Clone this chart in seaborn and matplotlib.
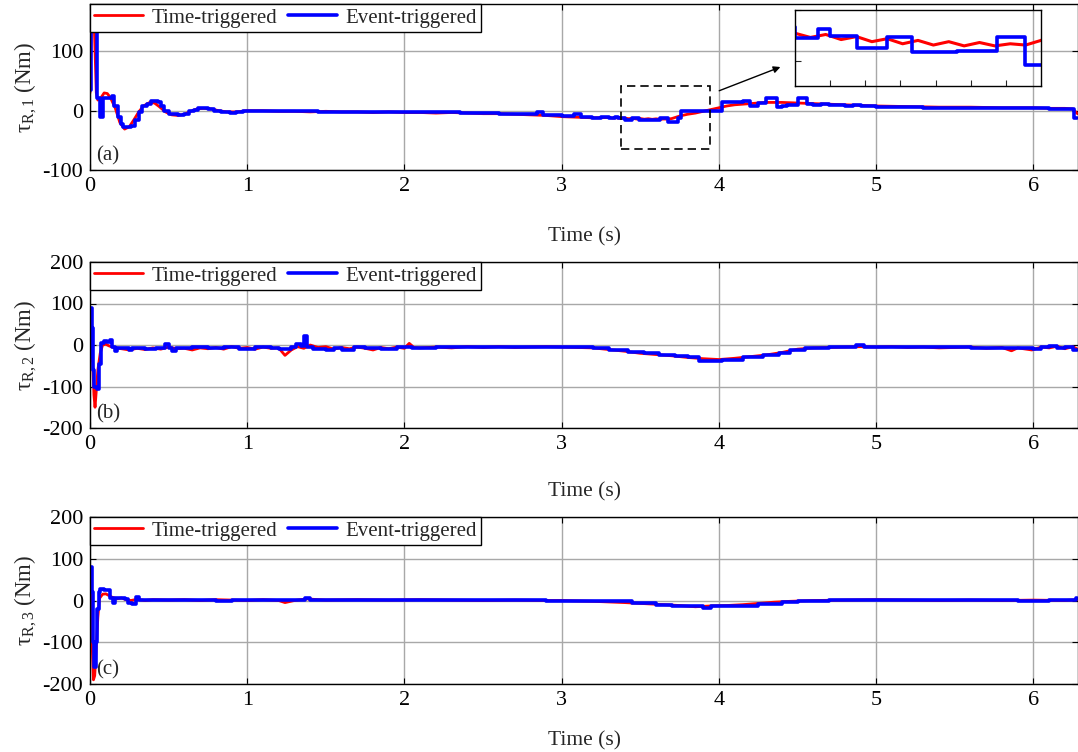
import numpy as np
import pandas as pd
import matplotlib
matplotlib.use("Agg")
import matplotlib.pyplot as plt
import matplotlib.patches as mpatches
import seaborn as sns

# ---------------- data ----------------
# Panel (a): tau_R,1
t_a_time = [0, 0.01, 0.02, 0.03, 0.04, 0.05, 0.07, 0.09, 0.11, 0.13, 0.16, 0.19, 0.22, 0.25, 0.28,
            0.31, 0.34, 0.38, 0.41, 0.44, 0.48, 0.52, 0.56, 0.6, 0.64, 0.68, 0.72, 0.77, 0.82, 0.87,
            0.93, 1.0, 1.1, 1.2, 1.3, 1.4, 1.5, 1.6, 1.7, 1.8, 1.9, 2.0, 2.1, 2.2, 2.3, 2.4, 2.5,
            2.6, 2.7, 2.8, 2.9, 3.0, 3.1, 3.2, 3.3,
            3.325, 3.35, 3.375, 3.4, 3.425, 3.45, 3.475, 3.5, 3.525, 3.55, 3.575, 3.6, 3.625,
            3.65, 3.675, 3.7,
            3.75, 3.8, 3.85, 3.9, 3.95, 4.0, 4.05, 4.1, 4.2, 4.3, 4.4, 4.5, 4.6, 4.7, 4.8, 4.9,
            5.0, 5.2, 5.4, 5.6, 5.8, 6.0, 6.1, 6.2, 6.25, 6.28]
v_a_time = [30, 160, 190, 120, 30, 18, 22, 30, 29, 22, 5, -20, -31, -27, -15,
            -2, 8, 14, 13, 7, -2, -7, -8, -6, -1, 3, 4, 3, 0, -2,
            -2, 0, 0, -1, -1, -2, -1, -2, -2, -3, -2, -3, -3, -4, -3, -4, -5,
            -5, -6, -7, -8, -10, -11, -12, -11.5,
            -12.5, -11.8, -13.0, -12.3, -13.5, -12.8, -14.0, -13.2, -14.3, -13.5, -14.5, -13.7,
            -14.5, -14.0, -14.3, -13.2,
            -9, -6, -4, -1, 2, 5, 8, 10, 12, 14, 14, 13, 12, 11, 10, 9,
            8, 7, 6, 6, 5, 5, 4, 4, 3, -5]
t_a_event = [0, 0.005, 0.045, 0.065, 0.08, 0.14, 0.155, 0.175, 0.195, 0.21, 0.26, 0.285, 0.31,
             0.33, 0.36, 0.39, 0.43, 0.45, 0.47, 0.5, 0.56, 0.6, 0.63, 0.66, 0.69, 0.75, 0.79,
             0.83, 0.89, 0.93, 0.97, 1.05, 1.15, 1.3, 1.45, 1.6, 1.75, 1.9, 2.05, 2.2, 2.35, 2.5,
             2.6, 2.75, 2.84, 2.88, 3.0, 3.08, 3.12, 3.19, 3.25, 3.3, 3.337, 3.357, 3.4, 3.45,
             3.49, 3.563, 3.628, 3.674, 3.74, 3.76, 3.86, 4.02, 4.15, 4.2, 4.25, 4.3, 4.37, 4.4,
             4.43, 4.5, 4.56, 4.6, 4.65, 4.7, 4.8, 4.85, 4.9, 5.0, 5.1, 5.2, 5.3, 5.5, 5.7, 5.9,
             6.1, 6.2, 6.26, 6.28]
v_a_event = [35, 185, 22, -10, 22, 24, 8, -10, -22, -27, -25, -15, -3,
             8, 12, 17, 14, 8, 0, -6, -7, -5, -1, 2, 4, 3, 0,
             -3, -4, -2, 0, 0, -1, -1, -2, -2, -2, -3, -2, -3, -4, -4,
             -5, -6, -3, -8, -9, -6, -10, -13, -10, -12.6, -10.5, -12.2, -15, -12.4,
             -16, -15.7, -12.4, -19, -12, -1, 0, 15, 17, 8, 13, 21, 7, 8,
             10, 21, 12, 9, 12, 10, 8, 10, 8, 7, 6, 7, 5, 5, 4, 4,
             3, 3, -12, -12]

# Panel (b): tau_R,2
t_b_time = [0, 0.008, 0.015, 0.025, 0.032, 0.04, 0.05, 0.065, 0.08, 0.1, 0.12, 0.15, 0.2, 0.25,
            0.3, 0.35, 0.4, 0.45, 0.5, 0.55, 0.6, 0.65, 0.7, 0.75, 0.8, 0.85, 0.9, 0.95, 1.0,
            1.05, 1.1, 1.15, 1.2, 1.24, 1.28, 1.32, 1.36, 1.4, 1.45, 1.5, 1.55, 1.6, 1.65, 1.7,
            1.75, 1.8, 1.85, 1.9, 1.95, 2.0, 2.03, 2.06, 2.1, 2.2, 2.3, 2.4, 2.5, 2.6, 2.7, 2.8,
            2.9, 3.0, 3.1, 3.2, 3.3, 3.4, 3.5, 3.6, 3.7, 3.8, 3.9, 4.0, 4.1, 4.2, 4.3, 4.4, 4.5,
            4.6, 4.7, 4.8, 4.9, 5.0, 5.1, 5.2, 5.3, 5.4, 5.5, 5.6, 5.7, 5.8, 5.86, 5.9, 5.99,
            6.05, 6.1, 6.15, 6.2, 6.25, 6.28]
v_b_time = [-40, 60, -20, -120, -150, -110, -60, -20, 0, 2, -2, -6, -9, -12,
            -8, -11, -7, -10, -5, -9, -8, -12, -7, -9, -6, -10, -4, -8, -6,
            -10, -5, -8, -7, -25, -12, -4, -8, 0, -6, -4, -10, -6, -9, -5,
            -8, -12, -6, -9, -5, -8, 4, -6, -7, -5, -7, -4, -6, -4, -6, -5,
            -4, -5, -6, -7, -11, -15, -20, -23, -26, -30, -33, -35, -32, -28, -24, -18, -10,
            -7, -6, -5, -4, -5, -4, -6, -5, -7, -6, -5, -8, -6, -14, -7, -12,
            -5, -7, -3, -9, -4, -10]
t_b_event = [0, 0.004, 0.012, 0.02, 0.028, 0.045, 0.055, 0.07, 0.09, 0.11, 0.125, 0.14, 0.16,
             0.17, 0.25, 0.27, 0.35, 0.42, 0.48, 0.5, 0.52, 0.55, 0.65, 0.75, 0.85, 0.95, 1.05,
             1.15, 1.2, 1.28, 1.31, 1.34, 1.36, 1.38, 1.42, 1.5, 1.55, 1.6, 1.68, 1.75, 1.85,
             1.95, 2.05, 2.2, 2.4, 2.6, 2.8, 3.0, 3.1, 3.2, 3.3, 3.42, 3.52, 3.62, 3.72, 3.8,
             3.87, 4.02, 4.15, 4.28, 4.38, 4.45, 4.55, 4.7, 4.87, 4.92, 5.0, 5.2, 5.4, 5.6, 5.8,
             5.95, 6.0, 6.05, 6.1, 6.15, 6.2, 6.25, 6.28]
v_b_event = [-30, 88, 40, -60, -100, -105, -45, 5, 10, 8, 12, -5, -15,
             -7, -12, -7, -9, -7, 2, -8, -14, -8, -6, -8, -5, -9, -6,
             -8, -10, -5, 3, -3, 22, -4, -10, -12, -7, -11, -6, -8, -9,
             -6, -7, -5, -4, -5, -4, -5, -6, -8, -11, -16, -20, -24, -27, -30,
             -38, -36, -28, -25, -20, -12, -7, -5, -1, -4, -5, -6, -6, -7, -8,
             -7, -10, -6, -3, -7, -4, -12, -12]

# Panel (c): tau_R,3
t_c_time = [0, 0.008, 0.015, 0.022, 0.03, 0.04, 0.05, 0.06, 0.08, 0.1, 0.12, 0.14, 0.17, 0.2,
            0.23, 0.26, 0.3, 0.35, 0.4, 0.5, 0.6, 0.7, 0.8, 0.9, 1.0, 1.1, 1.2, 1.24, 1.3, 1.38,
            1.45, 1.5, 1.7, 1.9, 2.1, 2.3, 2.5, 2.7, 2.9, 3.0, 3.2, 3.4, 3.6, 3.75, 3.85, 3.95,
            4.05, 4.15, 4.25, 4.35, 4.45, 4.6, 4.8, 5.0, 5.2, 5.4, 5.6, 5.8, 6.0, 6.2, 6.28]
v_c_time = [70, 0, -120, -190, -180, -110, -40, 5, 15, 16, 12, 8, 4, 6,
            2, 0, 3, 0, 2, 1, 2, 0, 2, 1, 0, 2, 0, -5, 0, 4,
            2, 1, 2, 1, 2, 1, 0, 1, 0, 0, -2, -5, -9, -12, -15, -13,
            -12, -10, -7, -4, -2, 0, 1, 2, 1, 0, 1, 0, 1, 0, 2]
t_c_event = [0, 0.01, 0.018, 0.026, 0.036, 0.045, 0.055, 0.065, 0.09, 0.13, 0.145, 0.16, 0.22,
             0.24, 0.27, 0.29, 0.31, 0.4, 0.5, 0.6, 0.7, 0.8, 0.9, 1.0, 1.1, 1.2, 1.3, 1.37, 1.4,
             1.5, 1.7, 1.9, 2.1, 2.3, 2.5, 2.7, 2.9, 3.1, 3.3, 3.45, 3.6, 3.7, 3.85, 3.9, 3.95,
             4.1, 4.25, 4.4, 4.5, 4.7, 4.9, 5.1, 5.3, 5.5, 5.7, 5.9, 6.1, 6.25, 6.27, 6.28]
v_c_event = [80, 20, -100, -160, -100, -20, 20, 27, 25, 6, -6, 5, 4,
             -6, -8, 8, 2, 1, 2, 1, 2, 0, 2, 1, 2, 1, 2, 6, 2,
             1, 2, 1, 2, 1, 1, 1, 0, 0, -2, -6, -10, -12, -14, -19, -14,
             -12, -8, -4, -1, 1, 2, 1, 1, 1, 1, 0, 1, 2, 6, 6]

series_names = ["Time-triggered", "Event-triggered"]
panel_tags = ["(a)", "(b)", "(c)"]
ylabels = ["τ$_{\\mathrm{R,1}}$ (Nm)", "τ$_{\\mathrm{R,2}}$ (Nm)", "τ$_{\\mathrm{R,3}}$ (Nm)"]
x_ticks = [0, 1, 2, 3, 4, 5, 6]
y_ticks_a = [-100, 0, 100]
y_ticks_bc = [-200, -100, 0, 100, 200]

# ---------------- style ----------------
sns.set_theme(style="ticks")
plt.rcParams["font.family"] = ["Liberation Serif", "DejaVu Serif"]
plt.rcParams["mathtext.fontset"] = "custom"
plt.rcParams["mathtext.rm"] = "Liberation Serif"
plt.rcParams["mathtext.it"] = "Liberation Serif:italic"
plt.rcParams["axes.linewidth"] = 1.0
plt.rcParams["axes.unicode_minus"] = False

RED = "#ff0000"
BLUE = "#0000ff"
FS_TICK = 16
FS_LEG = 15
FS_LAB = 15.5

fig = plt.figure(figsize=(10.78, 7.52), dpi=100)
W, H = 1078.0, 752.0

def ax_rect(top, bottom, left=90, right=1078):
    return [left / W, 1 - bottom / H, (right - left) / W, (bottom - top) / H]

axes = [fig.add_axes(ax_rect(4, 170)),
        fig.add_axes(ax_rect(262, 428)),
        fig.add_axes(ax_rect(517, 684))]

data = [(t_a_time, v_a_time, t_a_event, v_a_event),
        (t_b_time, v_b_time, t_b_event, v_b_event),
        (t_c_time, v_c_time, t_c_event, v_c_event)]
ylims = [(-100, 180), (-200, 200), (-200, 200)]
xlabel_y = [-0.345, -0.325, -0.285]

def draw_series(ax, tt, vt, te, ve, lw_r=2.0, lw_b=2.6):
    sns.lineplot(x=tt, y=vt, ax=ax, color=RED, lw=lw_r, label=series_names[0],
                 estimator=None, sort=False)
    sns.lineplot(x=te, y=ve, ax=ax, color=BLUE, lw=lw_b, label=series_names[1],
                 estimator=None, sort=False, drawstyle="steps-post")

for i, ax in enumerate(axes):
    tt, vt, te, ve = data[i]
    draw_series(ax, tt, vt, te, ve)
    ax.set_xlim(0, 2 * np.pi)
    ax.set_ylim(*ylims[i])
    ax.set_xticks(x_ticks)
    ax.set_yticks(y_ticks_a if i == 0 else y_ticks_bc)
    ax.grid(True, color="#a8a8a8", lw=1.0)
    ax.set_axisbelow(True)
    ax.tick_params(direction="in", top=True, right=True, length=4, width=0.8,
                   labelsize=FS_TICK, pad=5, colors="black")
    for s in ax.spines.values():
        s.set_color("black")
        s.set_linewidth(1.0)
    ax.set_xlabel("Time (s)", fontsize=FS_LAB)
    ax.xaxis.set_label_coords(0.5, xlabel_y[i])
    ax.xaxis.label.set_va("top")
    ax.set_ylabel(ylabels[i], fontsize=FS_LAB + 1)
    ax.yaxis.set_label_coords(-0.052, 0.5)
    ax.text(0.006, 0.03, panel_tags[i], transform=ax.transAxes, fontsize=FS_LEG,
            ha="left", va="bottom")
    leg = ax.legend(loc="upper left", ncol=2, fontsize=FS_LEG, frameon=True, fancybox=False,
                    edgecolor="black", framealpha=1, borderaxespad=0, borderpad=0.2,
                    handlelength=2.35, handletextpad=0.4, columnspacing=0.5)
    leg.get_frame().set_linewidth(1.0)

# zoom box + arrow + inset in panel (a)
ax0 = axes[0]
ax0.add_patch(mpatches.Rectangle((3.376, -64), 0.564, 106, fill=False, ls=(0, (5, 3)),
                                 ec="black", lw=1.2, zorder=5))
ax0.annotate("", xy=(783 / W, 1 - 66 / H), xycoords="figure fraction",
             xytext=(3.985, 32), textcoords="data",
             arrowprops=dict(arrowstyle="-|>", color="black", lw=1.0, mutation_scale=10))

axin = fig.add_axes([795 / W, 1 - 86 / H, 246 / W, 76 / H])
axin.set_facecolor("none")
draw_series(axin, t_a_time, v_a_time, t_a_event, v_a_event, lw_r=2.2, lw_b=2.6)
axin.set_xlim(3.30, 3.70)
axin.set_ylim(-24, -6)
axin.set_xticks(np.linspace(3.30, 3.70, 8)[1:-1])
axin.set_yticks([-18, -6])
axin.tick_params(direction="in", length=4, width=0.8, labelbottom=False, labelleft=False)
axin.set_xlabel("")
axin.set_ylabel("")
if axin.get_legend() is not None:
    axin.get_legend().remove()
for s in axin.spines.values():
    s.set_color("black")
    s.set_linewidth(1.0)

fig.savefig("out.png", dpi=100)
